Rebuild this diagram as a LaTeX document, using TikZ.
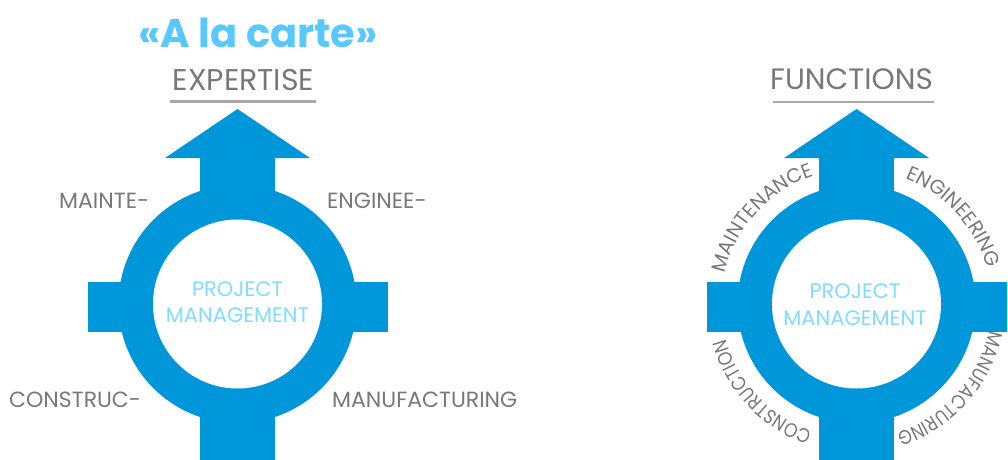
\documentclass[tikz,border=0pt]{standalone}
\usepackage{fontspec}
\setmainfont{Poppins}
\newfontfamily\narrowpop[FakeStretch=0.86]{Poppins}
\usetikzlibrary{decorations.text}
\definecolor{ringblue}{RGB}{0,150,218}
\definecolor{titleblue}{RGB}{88,200,255}
\definecolor{pmblue}{RGB}{130,220,255}
\definecolor{labgray}{RGB}{120,120,120}
\definecolor{linegray}{RGB}{168,168,168}
\newcommand{\curvefont}{\fontsize{20}{20}\selectfont\color{labgray}}
\newcommand{\curvefontn}{\narrowpop\fontsize{20}{20}\selectfont\color{labgray}}
\tikzset{
  ring/.style={fill=ringblue, draw=none},
  hole/.style={fill=white, draw=none},
  lab/.style={text=labgray, font=\fontsize{22}{22}\selectfont, inner sep=0pt, anchor=base west},
  head/.style={text=labgray, font=\fontsize{30}{30}\selectfont, inner sep=0pt, anchor=base},
  titlestyle/.style={text=titleblue, font=\fontsize{40}{40}\selectfont\bfseries, inner sep=0pt, anchor=base},
  pm/.style={text=pmblue, font=\fontsize{21}{21}\selectfont, inner sep=0pt, anchor=base},
  uline/.style={draw=linegray, line width=2.5pt},
  curved/.style={decorate, decoration={text along path, text align=center, text={|\curvefont|#1}}},
  curvedn/.style={decorate, decoration={text along path, text align=center, text={|\curvefontn|#1}}},
}
\begin{document}
\begin{tikzpicture}[x=1pt,y=1pt]
\useasboundingbox (0,0) rectangle (1008,459);
\foreach \cx in {237.5, 856.5} {
  \fill[ring] (\cx,155) circle[radius=119];
  \fill[ring] (\cx-37.5,-5) rectangle (\cx+37.5,301);
  \fill[ring] (\cx-150,127) rectangle (\cx+150,177);
  \fill[ring] (\cx-72.5,301) -- (\cx,350) -- (\cx+72.5,301) -- cycle;
  \fill[hole] (\cx,155) circle[radius=84.5];
}
% left figure
\node[titlestyle] (title) at (258,411) {«A la carte»};
\node[head] (expertise) at (243.5,369) {EXPERTISE};
\draw[uline] (170,357.5) -- (316,357.5);
\node[lab] (mainte) at (59,251) {MAINTE-};
\node[lab] (enginee) at (327,251) {ENGINEE-};
\node[lab] (construc) at (9,52) {CONSTRUC-};
\node[lab] (manuf) at (332,52) {MANUFACTURING};
\node[pm] (pmL1) at (237.5,163) {PROJECT};
\node[pm] (pmL2) at (237.5,137) {MANAGEMENT};
% right figure
\node[head, font=\fontsize{29.5}{29.5}\selectfont] (functions) at (851.5,370) {FUNCTIONS};
\draw[uline] (773,357) -- (934,357);
\node[pm] (pmR1) at (855,161) {PROJECT};
\node[pm] (pmR2) at (855,134) {MANAGEMENT};
\path[curved=MAINTENANCE] (856.5,155) ++(182.5:135) arc[start angle=182.5, end angle=92.5, radius=135];
\path[curved=ENGINEERING] (856.5,155) ++(87:135) arc[start angle=87, end angle=-3, radius=135];
\path[curvedn=CONSTRUCTION] (856.5,155) ++(268:135) arc[start angle=268, end angle=178, radius=135];
\path[curvedn=MANUFACTURING] (856.5,155) ++(3:135) arc[start angle=3, end angle=-87, radius=135];
\end{tikzpicture}
\end{document}
